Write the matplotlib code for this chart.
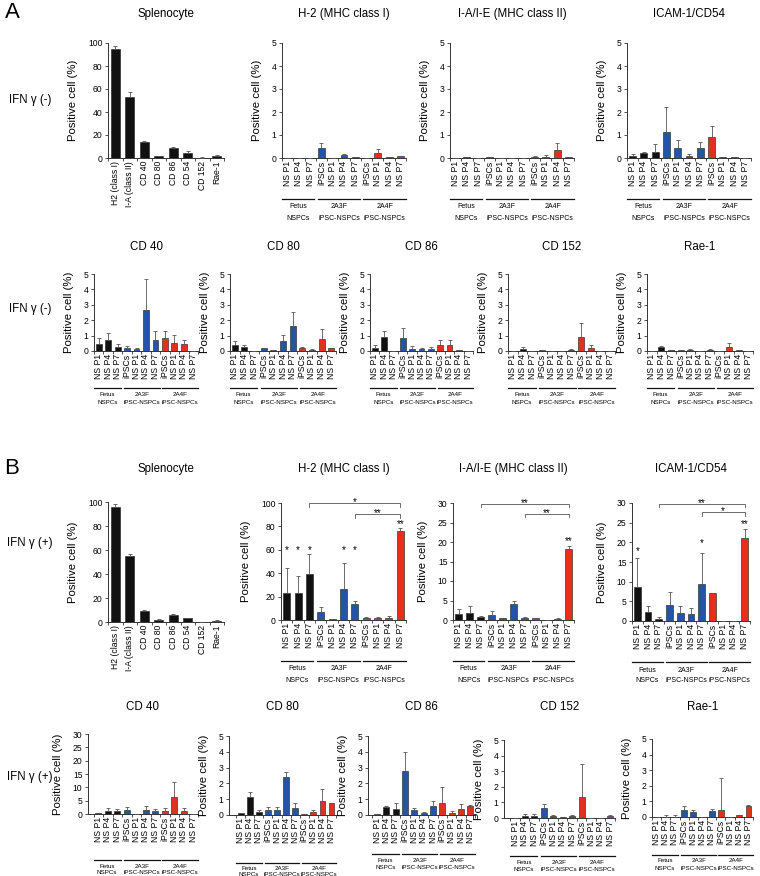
import matplotlib
matplotlib.use('Agg')
import matplotlib.pyplot as plt
import matplotlib.transforms as mtransforms
import numpy as np

plt.rcParams['font.family'] = ['Liberation Sans', 'DejaVu Sans']

# ---- categories ----
spl_labels = ['H2 (class I)', 'I-A (class II)', 'CD 40', 'CD 80', 'CD 86', 'CD 54', 'CD 152', 'Rae-1']
ns_labels = ['NS P1', 'NS P4', 'NS P7', 'iPSCs', 'NS P1', 'NS P4', 'NS P7', 'iPSCs', 'NS P1', 'NS P4', 'NS P7']
ns_group = [0, 0, 0, 1, 1, 1, 1, 2, 2, 2, 2]
group_top = ['Fetus', '2A3F', '2A4F']
group_bottom = ['NSPCs', 'iPSC-NSPCs', 'iPSC-NSPCs']

# ---- IFN gamma (-) ----
spl_a = [95, 53, 14, 1.5, 8.5, 4.5, 0.3, 2]
spl_a_err = [2, 4.5, 1.2, 0.6, 1, 1.5, 0.2, 0.6]
h2_a = [0.02, 0.02, 0.02, 0.42, 0.01, 0.12, 0.03, 0.02, 0.2, 0.05, 0.07]
h2_a_err = [0, 0, 0, 0.25, 0, 0.07, 0.01, 0, 0.17, 0, 0.03]
ia_a = [0.02, 0.03, 0.02, 0.05, 0.02, 0.0, 0.02, 0.05, 0.06, 0.35, 0.03]
ia_a_err = [0, 0, 0, 0.01, 0, 0, 0, 0.02, 0.05, 0.3, 0]
icam_a = [0.1, 0.2, 0.28, 1.15, 0.42, 0.1, 0.45, 0.9, 0.03, 0.03, 0.02]
icam_a_err = [0.06, 0.08, 0.33, 1.08, 0.37, 0.07, 0.25, 0.48, 0, 0, 0]
cd40_a = [0.48, 0.7, 0.25, 0.2, 0.1, 2.63, 0.72, 0.82, 0.55, 0.45, 0.02]
cd40_a_err = [0.39, 0.5, 0.22, 0.13, 0.1, 2.07, 0.6, 0.5, 0.5, 0.27, 0]
cd80_a = [0.38, 0.25, 0.02, 0.17, 0.05, 0.63, 1.6, 0.17, 0.08, 0.8, 0.18]
cd80_a_err = [0.24, 0.17, 0, 0.05, 0, 0.42, 0.95, 0.11, 0.02, 0.65, 0.04]
cd86_a = [0.22, 0.89, 0.03, 0.82, 0.15, 0.15, 0.15, 0.38, 0.38, 0.05, 0.0]
cd86_a_err = [0.18, 0.38, 0, 0.67, 0.15, 0.07, 0.12, 0.32, 0.32, 0, 0]
cd152_a = [0.02, 0.15, 0.02, 0.05, 0.02, 0.02, 0.08, 0.92, 0.22, 0.03, 0.0]
cd152_a_err = [0, 0.1, 0, 0, 0, 0, 0.05, 0.88, 0.18, 0, 0]
rae1_a = [0.02, 0.25, 0.08, 0.08, 0.08, 0.03, 0.06, 0.02, 0.28, 0.08, 0.03]
rae1_a_err = [0, 0.05, 0, 0, 0.05, 0, 0.04, 0, 0.22, 0, 0]

# ---- IFN gamma (+) ----
spl_b = [96, 55, 9, 2, 5.5, 3, 0.3, 1]
spl_b_err = [2, 2, 1, 0.3, 0.8, 0.5, 0.1, 0.5]
h2_b = [23.4, 22.9, 39.1, 6.6, 0.5, 26.3, 13.4, 1.5, 1.5, 2.0, 75.7]
h2_b_err = [20.9, 15.1, 17.2, 4.8, 0.5, 22, 3.2, 1, 1, 1, 2.9]
ia_b = [1.5, 1.8, 0.77, 1.2, 0.4, 4.1, 0.6, 0.6, 0.1, 0.35, 18.2]
ia_b_err = [1.2, 1.9, 0.33, 1.1, 0.1, 0.9, 0.2, 0, 0, 0.25, 0.9]
icam_b = [8.6, 2.2, 0.6, 4.06, 2.0, 1.86, 9.4, 7.0, 0.1, 0.1, 21.0]
icam_b_err = [7.3, 1.6, 0.4, 3.34, 1.8, 1.44, 8.0, 0.2, 0, 0, 2.4]
cd40_b = [0.3, 1.25, 1.0, 1.6, 0.1, 1.6, 1.25, 1.25, 6.5, 1.25, 0.1]
cd40_b_err = [0.2, 0.85, 0.9, 1.2, 0, 1.5, 0.65, 1.15, 5.5, 0.85, 0]
cd80_b = [0.1, 1.15, 0.17, 0.32, 0.32, 2.42, 0.42, 0.05, 0.17, 0.88, 0.74]
cd80_b_err = [0.02, 0.28, 0.15, 0.16, 0.16, 0.31, 0.32, 0, 0.15, 0.74, 0.04]
cd86_b = [0.05, 0.5, 0.4, 2.8, 0.3, 0.13, 0.6, 0.75, 0.15, 0.4, 0.6]
cd86_b_err = [0.02, 0.1, 0.35, 1.2, 0.15, 0.07, 0.3, 1.05, 0.1, 0.3, 0.05]
cd152_b = [0.02, 0.15, 0.12, 0.62, 0.1, 0.05, 0.1, 1.37, 0.02, 0.02, 0.15]
cd152_b_err = [0, 0.1, 0.16, 0.26, 0.08, 0, 0.08, 2.06, 0, 0, 0.05]
rae1_b = [0.0, 0.03, 0.03, 0.43, 0.34, 0.03, 0.41, 0.43, 0.03, 0.1, 0.73]
rae1_b_err = [0, 0.07, 0.07, 0.26, 0.09, 0, 0.11, 2.04, 0, 0.02, 0.04]

# significance marks: (bar, text, level) and brackets: (from, to, level, text)
h2_b_stars = [(0, '*', 62), (1, '*', 62), (2, '*', 62), (5, '*', 62), (6, '*', 62), (10, '**', 84)]
ia_b_stars = [(10, '**', 21)]
icam_b_stars = [(0, '*', 18.5), (6, '*', 20.5), (10, '**', 25.3)]
h2_b_brackets = [(2, 10, 100, '*'), (6, 10, 90.5, '**')]
ia_b_brackets = [(2, 10, 29.8, '**'), (6, 10, 27.2, '**')]
icam_b_brackets = [(2, 10, 29.8, '**'), (6, 10, 27.6, '*')]

W, H = 760, 876
fig = plt.figure(figsize=(W / 100, H / 100), dpi=100)
fig.patch.set_facecolor('white')

colors = ['#111111', '#2454a6', '#e3301e']
ns_colors = [colors[g] for g in ns_group]
spans = [(-0.5, 2.35), (2.7, 6.45), (6.72, 10.5)]
AXC = '#333333'


def make_ax(l, t, r, b):
    return fig.add_axes([l / W, 1 - b / H, (r - l) / W, (b - t) / H])


def draw_bars(ax, vals, errs, labels, cols, ymax, step, xmin=-0.5):
    x = np.arange(len(vals))
    ax.bar(x, vals, width=0.62, color=cols, edgecolor='#1a1a1a', linewidth=0.4, zorder=2)
    ax.errorbar(x, vals, yerr=[np.zeros(len(errs)), errs], fmt='none', ecolor='#555555',
                elinewidth=0.6, capsize=1.3, capthick=0.6, zorder=3)
    ax.set_xlim(xmin, len(vals) - 0.5)
    ax.set_xticks(x)
    ax.set_xticklabels(labels, rotation=90, fontsize=6.2)
    ax.set_xticks(np.arange(-0.5, len(vals), 1), minor=True)
    ax.tick_params(axis='x', which='major', length=0, pad=2)
    ax.tick_params(axis='x', which='minor', length=2.5, width=0.6, direction='out', color=AXC)
    for s in ['top', 'right']:
        ax.spines[s].set_visible(False)
    for s in ['left', 'bottom']:
        ax.spines[s].set_linewidth(0.7)
        ax.spines[s].set_color(AXC)
    ax.set_ylim(0, ymax)
    ax.set_yticks(np.arange(0, ymax + step / 2, step))
    ax.tick_params(axis='y', direction='out', length=2.5, width=0.6, labelsize=6.2, pad=1.5, color=AXC)
    ax.set_ylabel('Positive cell (%)', fontsize=8.2, labelpad=7)


def draw_groups(ax, line_off, t1, t2, fs):
    trans = mtransforms.blended_transform_factory(ax.transData, ax.transAxes)
    for k, (g0, g1) in enumerate(spans):
        tl = mtransforms.offset_copy(trans, fig=fig, y=-line_off, units='dots')
        ax.plot([g0, g1], [0, 0], transform=tl, color='#111111', lw=0.9, clip_on=False)
        for txt, off in ((group_top[k], t1), (group_bottom[k], t2)):
            tt = mtransforms.offset_copy(trans, fig=fig, y=-(line_off + off), units='dots')
            ax.text((g0 + g1) / 2, 0, txt, transform=tt, ha='center', va='center',
                    fontsize=fs, clip_on=False)


def star_text(ax, x, y, s, lift=0):
    # put the visual centre of the asterisk at (x, y)
    tr = mtransforms.offset_copy(ax.transData, fig=fig, y=-5.5 + lift, units='dots')
    ax.text(x, y, s, transform=tr, ha='center', va='baseline', fontsize=7, clip_on=False)


def draw_sig(ax, marks, brs, ymax):
    for i, s, y in marks:
        star_text(ax, i, y, s)
    for i0, i1, y, s in brs:
        tk = 0.03 * ymax
        ax.plot([i0, i0, i1, i1], [y - tk, y, y, y - tk], color='#555555', lw=0.6, clip_on=False)
        star_text(ax, (i0 + i1) / 2, y, s, lift=3.5)


def title(box, txt, y):
    fig.text((box[0] + box[2]) / 2 / W, 1 - y / H, txt, ha='center', va='center', fontsize=8.3)


# (title, values, errors, box l/t/r/b, ymax, step, xmin, group line offset, text offsets, font, title y)
panels_ns = [
    ('H-2 (MHC class I)', h2_a, h2_a_err, (282, 43, 406, 158), 5, 1, -0.5, 41, 7.5, 19, 5, 14),
    ('I-A/I-E (MHC class II)', ia_a, ia_a_err, (450, 43, 574, 158), 5, 1, -0.5, 41, 7.5, 19, 5, 14),
    ('ICAM-1/CD54', icam_a, icam_a_err, (627, 43, 751, 158), 5, 1, -0.5, 41, 7.5, 19, 5, 14),
    ('CD 40', cd40_a, cd40_a_err, (94, 274, 198, 351), 5, 1, -0.5, 37, 6.5, 15, 4.5, 247),
    ('CD 80', cd80_a, cd80_a_err, (230, 274, 336, 351), 5, 1, -0.5, 37, 6.5, 15, 4.5, 247),
    ('CD 86', cd86_a, cd86_a_err, (370, 274, 473, 351), 5, 1, -0.5, 37, 6.5, 15, 4.5, 247),
    ('CD 152', cd152_a, cd152_a_err, (508, 274, 615, 351), 5, 1, -0.5, 37, 6.5, 15, 4.5, 247),
    ('Rae-1', rae1_a, rae1_a_err, (647, 274, 753, 351), 5, 1, -0.5, 37, 6.5, 15, 4.5, 247),
    ('H-2 (MHC class I)', h2_b, h2_b_err, (281, 503, 406, 620), 100, 20, -0.5, 41, 8, 19, 5, 469),
    ('I-A/I-E (MHC class II)', ia_b, ia_b_err, (453, 503, 574, 620), 30, 5, -0.5, 41, 8, 19, 5, 469),
    ('ICAM-1/CD54', icam_b, icam_b_err, (632, 503, 750, 621), 30, 5, -0.5, 41, 8, 19, 5, 469),
    ('CD 40', cd40_b, cd40_b_err, (88, 734, 198, 814), 30, 5, -1.08, 46, 6, 13, 4.5, 707),
    ('CD 80', cd80_b, cd80_b_err, (229, 736, 336, 815), 5, 1, -1.29, 48, 5.5, 12, 4.5, 707),
    ('CD 86', cd86_b, cd86_b_err, (368, 736, 475, 815), 5, 1, -0.97, 39, 6, 13.5, 4.5, 707),
    ('CD 152', cd152_b, cd152_b_err, (504, 740, 615, 818), 5, 1, -1.16, 38, 6, 13.5, 4.5, 707),
    ('Rae-1', rae1_b, rae1_b_err, (652, 739, 753, 817), 5, 1, -0.5, 38, 6, 13.5, 4.5, 707),
]

axes_ns = []
for (ttl, v, e, box, ymax, step, xmin, loff, t1, t2, fs, ty) in panels_ns:
    ax = make_ax(*box)
    draw_bars(ax, v, e, ns_labels, ns_colors, ymax, step, xmin)
    draw_groups(ax, loff, t1, t2, fs)
    title(box, ttl, ty)
    axes_ns.append(ax)

draw_sig(axes_ns[8], h2_b_stars, h2_b_brackets, 100)
draw_sig(axes_ns[9], ia_b_stars, ia_b_brackets, 30)
draw_sig(axes_ns[10], icam_b_stars, icam_b_brackets, 30)

# splenocyte panels
for v, e, box, ty in [(spl_a, spl_a_err, (108, 43, 224, 158), 14),
                      (spl_b, spl_b_err, (108, 502, 224, 622), 469)]:
    ax = make_ax(*box)
    draw_bars(ax, v, e, spl_labels, '#111111', 100, 20)
    title(box, 'Splenocyte', ty)

# panel letters and row labels
fig.text(12 / W, 1 - 12 / H, 'A', fontsize=16, ha='center', va='center')
fig.text(12 / W, 1 - 468 / H, 'B', fontsize=16, ha='center', va='center')
for y, s in [(100, 'IFN γ (-)'), (309, 'IFN γ (-)'), (543, 'IFN γ (+)'), (777, 'IFN γ (+)')]:
    fig.text(30 / W, 1 - y / H, s, fontsize=8.3, ha='center', va='center')

fig.savefig('out.png', dpi=100)
